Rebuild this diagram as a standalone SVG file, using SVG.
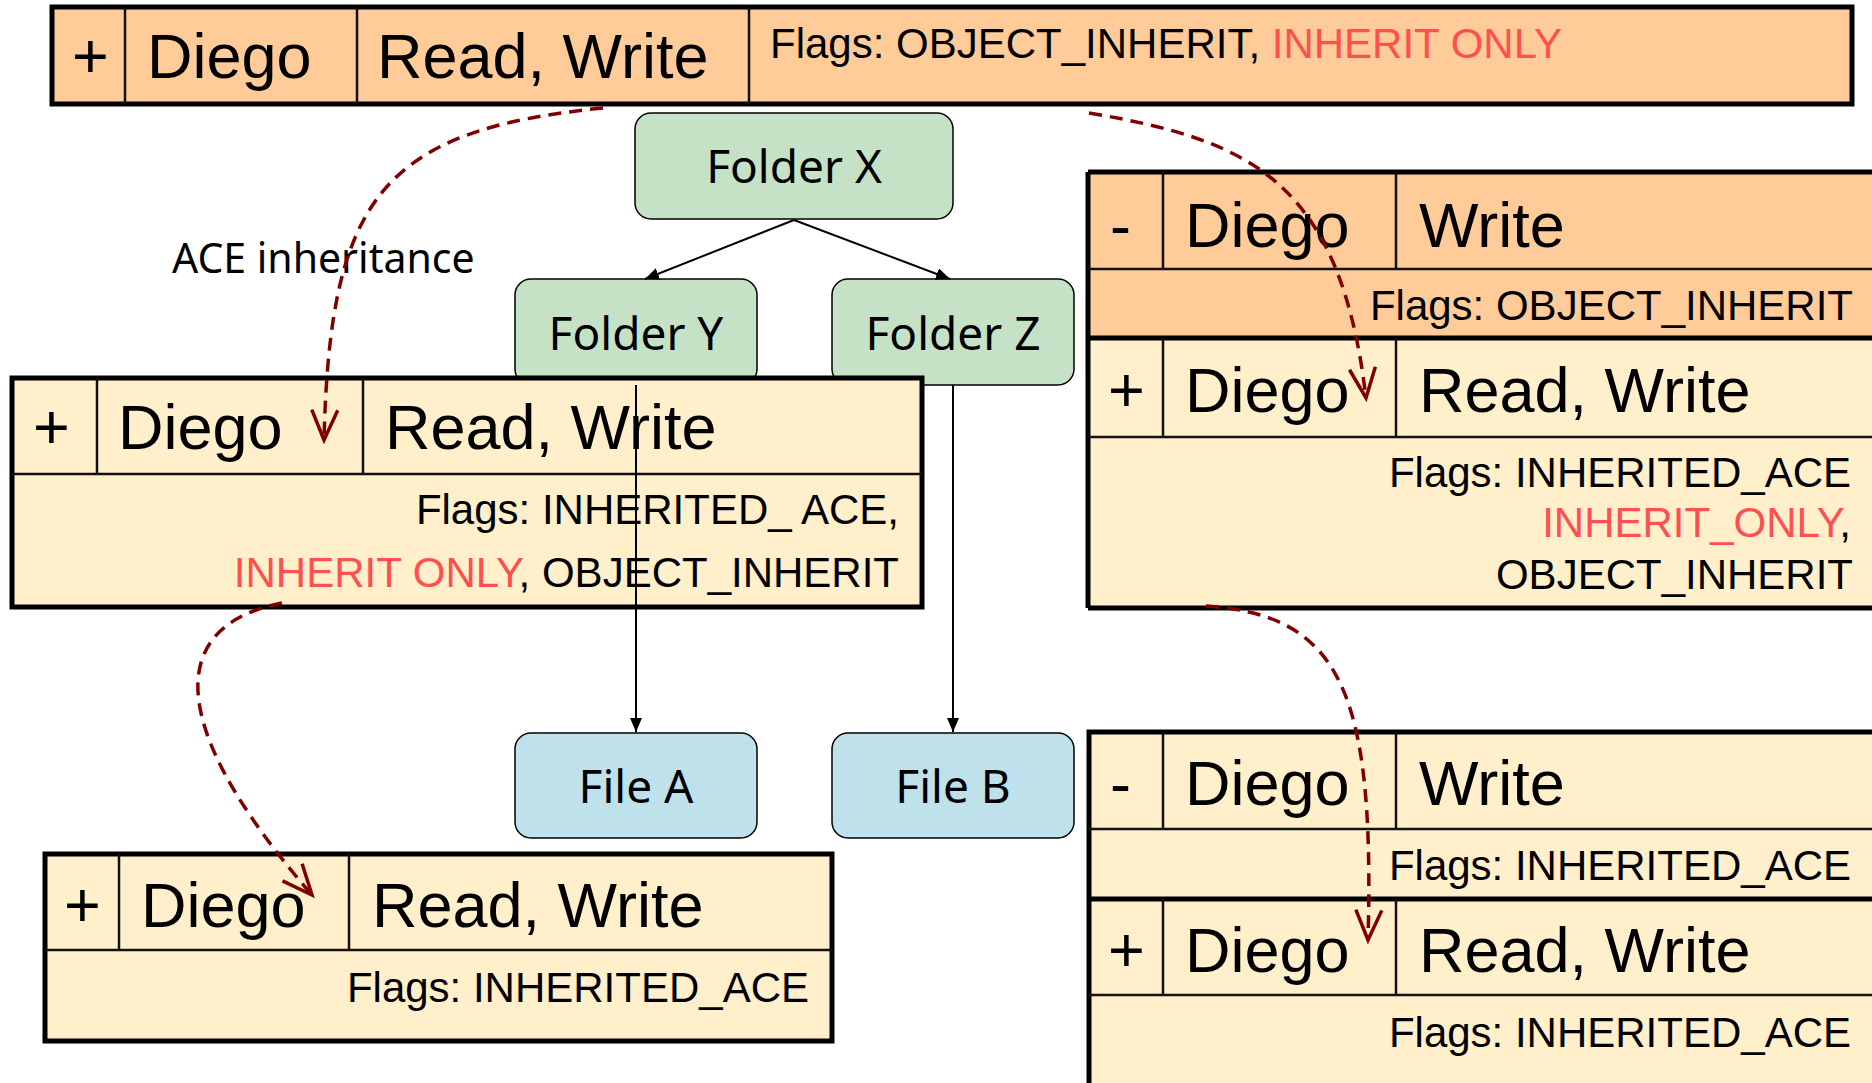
<svg xmlns="http://www.w3.org/2000/svg" width="1872" height="1083" viewBox="0 0 1872 1083">
<style>
.big{font-family:"Liberation Sans",Arial,sans-serif;font-size:63px;fill:#000}
.flag{font-family:"Liberation Sans",Arial,sans-serif;font-size:42px;fill:#000}
.red{fill:#FF5050}
.node{font-family:"Noto Sans","Open Sans",sans-serif;font-size:46px;fill:#000;text-anchor:middle}
.lbl{font-family:"Noto Sans","Open Sans",sans-serif;font-size:41px;fill:#000}
.outer{stroke:#000;stroke-width:5}
.div{stroke:#111;stroke-width:2.5;fill:none}
.thick{stroke:#000;stroke-width:5;fill:none}
.peach{fill:#FFCB98}
.light{fill:#FFEFCA}
.green{fill:#C5E2C7;stroke:#000;stroke-width:1.5}
.blue{fill:#BFE1EB;stroke:#000;stroke-width:1.5}
.conn{stroke:#000;stroke-width:2;fill:none}
.inh{stroke:#800000;stroke-width:3.5;fill:none;stroke-dasharray:13 8}
</style>
<defs>
<marker id="tri" markerWidth="16" markerHeight="12" refX="14" refY="6" orient="auto" markerUnits="userSpaceOnUse"><path d="M0,0 L14,6 L0,12 Z" fill="#000"/></marker>
<marker id="vee" viewBox="-34 -18 38 36" markerWidth="38" markerHeight="36" refX="0" refY="0" orient="auto" markerUnits="userSpaceOnUse"><path d="M-30,-13 L0,0 L-30,13" fill="none" stroke="#800000" stroke-width="3.5" stroke-dasharray="none"/></marker>
</defs>

<g id="ace-top">
<rect x="52" y="7" width="1800" height="97" class="peach outer"/>
<path d="M125,7 V104 M357,7 V104 M749,7 V104" class="div"/>
<text x="72" y="78" class="big">+</text>
<text x="147" y="78" class="big">Diego</text>
<text x="377" y="78" class="big">Read, Write</text>
<text x="770" y="58" class="flag">Flags: OBJECT_INHERIT, <tspan class="red">INHERIT ONLY</tspan></text>
</g>

<g id="folder-x">
<rect x="635" y="113" width="318" height="106" rx="16" class="green"/>
<text x="794" y="183" class="node">Folder X</text>
</g>
<g id="folder-y">
<rect x="515" y="279" width="242" height="106" rx="16" class="green"/>
<text x="636" y="350" class="node">Folder Y</text>
</g>
<g id="folder-z">
<rect x="832" y="279" width="242" height="106" rx="16" class="green"/>
<text x="953" y="350" class="node">Folder Z</text>
</g>
<g id="file-a">
<rect x="515" y="733" width="242" height="105" rx="16" class="blue"/>
<text x="636" y="803" class="node">File A</text>
</g>
<g id="file-b">
<rect x="832" y="733" width="242" height="105" rx="16" class="blue"/>
<text x="953" y="803" class="node">File B</text>
</g>

<g id="label-ace">
<text x="172" y="273" class="lbl">ACE inheritance</text>
</g>

<g id="ace-folder-y">
<rect x="12" y="378" width="910" height="229" class="light outer"/>
<path d="M12,474 H922 M97,378 V474 M363,378 V474" class="div"/>
<text x="33" y="449" class="big">+</text>
<text x="118" y="449" class="big">Diego</text>
<text x="385" y="449" class="big">Read, Write</text>
<text x="899" y="524" class="flag" text-anchor="end">Flags: INHERITED_ ACE,</text>
<text x="899" y="587" class="flag" text-anchor="end"><tspan class="red">INHERIT ONLY</tspan>, OBJECT_INHERIT</text>
</g>

<g id="ace-folder-z">
<rect x="1088" y="172" width="800" height="166" class="peach"/>
<rect x="1088" y="338" width="800" height="270" class="light"/>
<path d="M1088,172 H1888 M1088,172 V608 M1088,608 H1888" class="thick"/>
<path d="M1088,338 H1888" class="thick"/>
<path d="M1088,269 H1888 M1163,172 V269 M1396,172 V269 M1088,437 H1888 M1163,338 V437 M1396,338 V437" class="div"/>
<text x="1110" y="247" class="big">-</text>
<text x="1185" y="247" class="big">Diego</text>
<text x="1419" y="247" class="big">Write</text>
<text x="1853" y="320" class="flag" text-anchor="end">Flags: OBJECT_INHERIT</text>
<text x="1108" y="412" class="big">+</text>
<text x="1185" y="412" class="big">Diego</text>
<text x="1419" y="412" class="big">Read, Write</text>
<text x="1851" y="487" class="flag" text-anchor="end">Flags: INHERITED_ACE</text>
<text x="1851" y="537" class="flag" text-anchor="end"><tspan class="red">INHERIT_ONLY</tspan>,</text>
<text x="1853" y="589" class="flag" text-anchor="end">OBJECT_INHERIT</text>
</g>

<g id="ace-file-a">
<rect x="45" y="854" width="787" height="187" class="light outer"/>
<path d="M45,950 H832 M119,854 V950 M349,854 V950" class="div"/>
<text x="64" y="927" class="big">+</text>
<text x="141" y="927" class="big">Diego</text>
<text x="372" y="927" class="big">Read, Write</text>
<text x="809" y="1002" class="flag" text-anchor="end">Flags: INHERITED_ACE</text>
</g>

<g id="ace-file-b">
<rect x="1089" y="732" width="800" height="360" class="light"/>
<path d="M1889,732 H1089 V1092" class="thick"/>
<path d="M1089,899 H1889" class="thick"/>
<path d="M1089,829 H1889 M1163,732 V829 M1396,732 V829 M1089,995 H1889 M1163,899 V995 M1396,899 V995" class="div"/>
<text x="1110" y="805" class="big">-</text>
<text x="1185" y="805" class="big">Diego</text>
<text x="1419" y="805" class="big">Write</text>
<text x="1851" y="880" class="flag" text-anchor="end">Flags: INHERITED_ACE</text>
<text x="1108" y="972" class="big">+</text>
<text x="1185" y="972" class="big">Diego</text>
<text x="1419" y="972" class="big">Read, Write</text>
<text x="1851" y="1047" class="flag" text-anchor="end">Flags: INHERITED_ACE</text>
</g>

<g id="connectors">
<path d="M794,220 L645,279" class="conn" marker-end="url(#tri)"/>
<path d="M794,220 L950,279" class="conn" marker-end="url(#tri)"/>
<path d="M636,385 L636,732" class="conn" marker-end="url(#tri)"/>
<path d="M953,385 L953,732" class="conn" marker-end="url(#tri)"/>
<path d="M603,108 C380,130 330,200 324,440" class="inh" marker-end="url(#vee)"/>
<path d="M1089,113 C1250,140 1340,180 1366,398" class="inh" marker-end="url(#vee)"/>
<path d="M282,603 C170,625 160,720 312,895" class="inh" marker-end="url(#vee)"/>
<path d="M1206,606 C1340,615 1375,690 1368,940" class="inh" marker-end="url(#vee)"/>
</g>
</svg>
